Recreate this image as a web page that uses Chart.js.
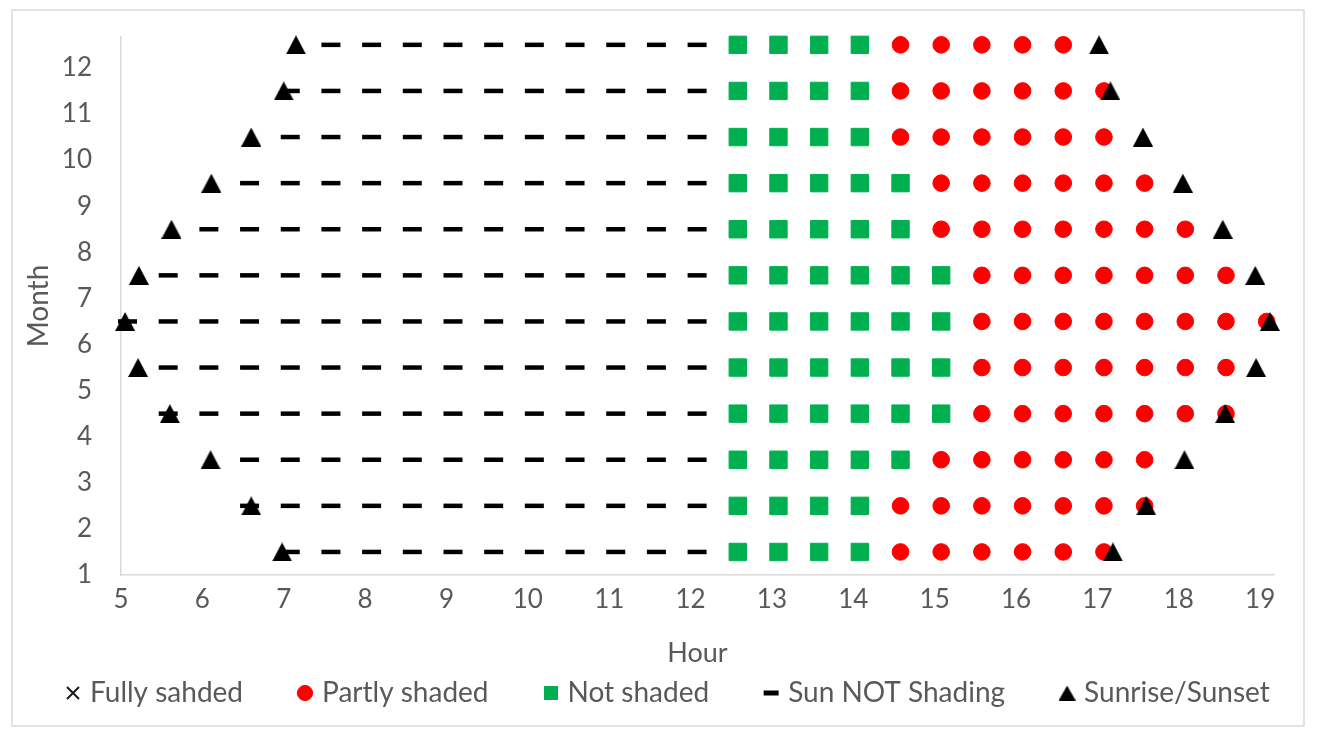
<!DOCTYPE html>
<html>
<head>
<meta charset="utf-8">
<script src="https://cdn.jsdelivr.net/npm/chart.js@4.4.1/dist/chart.umd.min.js"></script>
<style>
  html, body { margin: 0; padding: 0; background: #ffffff; }
  canvas { display: block; }
</style>
</head>
<body>
<canvas id="chart" width="1317" height="738"></canvas>
<script>
// ---------------- data ----------------
const seriesLabels = ['Fully sahded', 'Partly shaded', 'Not shaded', 'Sun NOT Shading', 'Sunrise/Sunset'];
const xTickHours = [5, 6, 7, 8, 9, 10, 11, 12, 13, 14, 15, 16, 17, 18, 19];
const yTickMonths = [1, 2, 3, 4, 5, 6, 7, 8, 9, 10, 11, 12];
// row position of each month (Jan .. Dec)
const monthRows = [1.5, 2.5, 3.5, 4.5, 5.5, 6.5, 7.5, 8.5, 9.5, 10.5, 11.5, 12.5];
// half-hour sample times
const slotHours = [5.08, 5.58, 6.08, 6.58, 7.08, 7.58, 8.08, 8.58, 9.08, 9.58, 10.08, 10.58,
                   11.08, 11.58, 12.08, 12.58, 13.08, 13.58, 14.08, 14.58, 15.08, 15.58,
                   16.08, 16.58, 17.08, 17.58, 18.08, 18.58, 19.08];
// status of each sample per month: '-' sun not shading, 'G' not shaded, 'R' partly shaded, 'X' fully shaded, '.' none
const slotStatus = [
  '....-----------GGGGRRRRRR....', // Jan
  '...------------GGGGRRRRRRR...', // Feb
  '...------------GGGGGRRRRRR...', // Mar
  '.--------------GGGGGGRRRRRRR.', // Apr
  '.--------------GGGGGGRRRRRRR.', // May
  '---------------GGGGGGRRRRRRRR', // Jun
  '.--------------GGGGGGRRRRRRR.', // Jul
  '..-------------GGGGGRRRRRRR..', // Aug
  '...------------GGGGGRRRRRR...', // Sep
  '....-----------GGGGRRRRRR....', // Oct
  '....-----------GGGGRRRRRR....', // Nov
  '.....----------GGGGRRRRR.....'  // Dec
];
const sunriseHour = [6.98, 6.60, 6.10, 5.60, 5.21, 5.05, 5.22, 5.62, 6.11, 6.60, 7.00, 7.15];
const sunsetHour  = [17.19, 17.60, 18.07, 18.57, 18.95, 19.12, 18.94, 18.54, 18.05, 17.56, 17.16, 17.02];

// ---------------- build datasets ----------------
function pointsWithStatus(code) {
  const pts = [];
  slotStatus.forEach((row, m) => {
    for (let i = 0; i < row.length; i++) {
      if (row[i] === code) pts.push({ x: slotHours[i], y: monthRows[m] });
    }
  });
  return pts;
}
const sunPoints = [];
monthRows.forEach((y, m) => {
  sunPoints.push({ x: sunriseHour[m], y: y });
  sunPoints.push({ x: sunsetHour[m], y: y });
});

// ---------------- marker glyphs ----------------
function glyph(w, h, paint) {
  const c = document.createElement('canvas');
  c.width = w; c.height = h;
  paint(c.getContext('2d'), w, h);
  return c;
}
const triangleGlyph = (w, h) => glyph(w, h, (g) => {
  g.fillStyle = '#000000';
  g.beginPath(); g.moveTo(w / 2, 0); g.lineTo(w, h); g.lineTo(0, h); g.closePath(); g.fill();
});
const crossGlyph = (s) => glyph(s, s, (g) => {
  g.strokeStyle = '#1a1a1a'; g.lineWidth = 2;
  g.beginPath(); g.moveTo(1, 1); g.lineTo(s - 1, s - 1); g.moveTo(s - 1, 1); g.lineTo(1, s - 1); g.stroke();
});
const squareGlyph = (s) => glyph(s, s, (g) => { g.fillStyle = '#00B050'; g.fillRect(0, 0, s, s); });

const FONT = 'Lato, "Open Sans", "DejaVu Sans", sans-serif';
const TEXT = '#595959';
const AXIS = '#D9D9D9';

// legend layout (drawn below the axis title)
const LEGEND = { y: 693, firstMarkerX: 73, markerToText: 17, gap: 62, fontSize: 28 };
const legendMarkers = [
  { pointStyle: crossGlyph(14), radius: 7 },
  { pointStyle: 'circle', radius: 7.6, fill: '#FF0000', stroke: '#FF0000', borderWidth: 1 },
  { pointStyle: squareGlyph(14), radius: 7 },
  { pointStyle: 'line', radius: 7.5, stroke: '#000000', borderWidth: 5 },
  { pointStyle: triangleGlyph(17, 15), radius: 8 }
];

const framePlugin = {
  id: 'frame',
  beforeDraw(chart) {
    const ctx = chart.ctx;
    ctx.save();
    ctx.fillStyle = '#ffffff';
    ctx.fillRect(0, 0, chart.width, chart.height);
    ctx.strokeStyle = AXIS;
    ctx.lineWidth = 1.5;
    ctx.strokeRect(12, 10, 1292, 716);
    ctx.restore();
  }
};

const legendPlugin = {
  id: 'bottomLegend',
  afterDraw(chart) {
    const ctx = chart.ctx;
    ctx.save();
    ctx.font = LEGEND.fontSize + 'px ' + FONT;
    ctx.textBaseline = 'middle';
    ctx.textAlign = 'left';
    let x = LEGEND.firstMarkerX;
    chart.data.datasets.forEach((ds, i) => {
      const mk = legendMarkers[i];
      ctx.fillStyle = mk.fill || '#000000';
      ctx.strokeStyle = mk.stroke || '#000000';
      ctx.lineWidth = mk.borderWidth || 0;
      Chart.helpers.drawPoint(ctx, {
        pointStyle: mk.pointStyle, radius: mk.radius, rotation: 0, borderWidth: mk.borderWidth || 0
      }, x, LEGEND.y);
      ctx.fillStyle = TEXT;
      const tx = x + LEGEND.markerToText;
      ctx.fillText(ds.label, tx, LEGEND.y);
      x = tx + ctx.measureText(ds.label).width + LEGEND.gap;
    });
    ctx.restore();
  }
};

function draw() {
  Chart.defaults.font.family = FONT;
  Chart.defaults.font.size = 26;
  Chart.defaults.color = TEXT;

  new Chart(document.getElementById('chart'), {
    type: 'scatter',
    data: {
      datasets: [
        { label: seriesLabels[0], data: pointsWithStatus('X'), pointStyle: 'crossRot', pointRadius: 8,
          borderColor: '#1a1a1a', backgroundColor: '#1a1a1a', borderWidth: 2, clip: false },
        { label: seriesLabels[1], data: pointsWithStatus('R'), pointStyle: 'circle', pointRadius: 8.3,
          borderColor: '#FF0000', backgroundColor: '#FF0000', borderWidth: 1, clip: false },
        { label: seriesLabels[2], data: pointsWithStatus('G'), pointStyle: 'rect', pointRadius: 12.3,
          borderColor: '#00B050', backgroundColor: '#00B050', borderWidth: 1, clip: false },
        { label: seriesLabels[3], data: pointsWithStatus('-'), pointStyle: 'line', pointRadius: 9.5,
          borderColor: '#000000', backgroundColor: '#000000', borderWidth: 4.5, clip: false },
        { label: seriesLabels[4], data: sunPoints, pointStyle: triangleGlyph(20, 19), pointRadius: 10,
          borderColor: '#000000', backgroundColor: '#000000', borderWidth: 1, clip: false, order: -1 }
      ]
    },
    options: {
      responsive: false,
      animation: false,
      devicePixelRatio: 1,
      events: [],
      layout: { padding: { left: 12, right: 43, top: 37, bottom: 0 } },
      plugins: {
        tooltip: { enabled: false },
        legend: { display: false }
      },
      scales: {
        x: {
          type: 'linear',
          min: 5,
          max: 19.17,
          afterBuildTicks(scale) { scale.ticks = xTickHours.map(v => ({ value: v })); },
          afterFit(scale) { scale.height = 738 - 575; },
          grid: { display: false, drawTicks: false },
          border: { display: true, color: AXIS, width: 1.5 },
          ticks: { padding: 9, color: TEXT, font: { size: 26 } },
          title: { display: true, text: 'Hour', color: TEXT, font: { size: 27 },
                   padding: { top: 0, bottom: 68.8 } }
        },
        y: {
          type: 'linear',
          min: 1,
          max: 12.67,
          afterBuildTicks(scale) { scale.ticks = yTickMonths.map(v => ({ value: v })); },
          afterFit(scale) {
            scale.width = 121 - 12;
            scale.paddingTop = 0;
            scale.paddingBottom = 0;
          },
          grid: { display: false, drawTicks: false },
          border: { display: true, color: AXIS, width: 1.5 },
          ticks: { padding: 29, color: TEXT, font: { size: 26 } },
          title: { display: true, text: 'Month', color: TEXT, font: { size: 28 }, padding: { top: 10, bottom: 0 } }
        }
      }
    },
    plugins: [framePlugin, legendPlugin]
  });
}

if (document.fonts && document.fonts.load) {
  Promise.all([document.fonts.load('26px Lato'), document.fonts.load('28px Lato')]).then(draw, draw);
} else {
  draw();
}
</script>
</body>
</html>
